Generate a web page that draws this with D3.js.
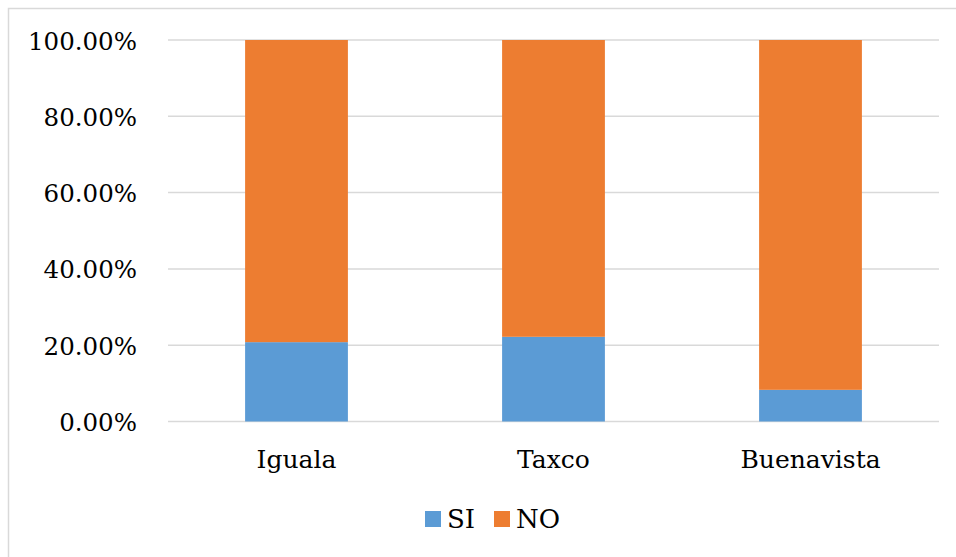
<!DOCTYPE html>
<html>
<head>
<meta charset="utf-8">
<script src="https://cdn.jsdelivr.net/npm/d3@7"></script>
<style>
  html, body { margin: 0; padding: 0; background: #fff; overflow: hidden; }
</style>
</head>
<body>
<div id="chart"></div>
<script>
// data
const categories = ["Iguala", "Taxco", "Buenavista"];
const siValues = [0.208, 0.222, 0.083];
const noValues = siValues.map(v => 1 - v); // the two series add up to 100%
const yTicks = [0, 0.2, 0.4, 0.6, 0.8, 1.0];
const seriesNames = ["SI", "NO"];
const seriesColors = ["#5B9BD5", "#ED7D31"];

const FONT = "'DejaVu Serif', serif";

const W = 956, H = 557;
const margin = { top: 40, right: 17, bottom: 135.5, left: 168 };
const width = W - margin.left - margin.right;
const height = H - margin.top - margin.bottom;

const svg = d3.select("#chart").append("svg")
    .attr("width", W)
    .attr("height", H)
    .style("font-family", FONT);

// outer chart border (right and bottom edges fall outside the picture)
svg.append("rect")
    .attr("x", 8.5).attr("y", 8.5)
    .attr("width", 960).attr("height", 560)
    .attr("fill", "none")
    .attr("stroke", "#d9d9d9")
    .attr("stroke-width", 1.5);

const g = svg.append("g")
    .attr("transform", "translate(" + margin.left + "," + margin.top + ")");

const x = d3.scaleBand()
    .domain(categories)
    .range([0, width])
    .paddingInner(0.6)
    .paddingOuter(0.3);

const y = d3.scaleLinear()
    .domain([0, 1])
    .range([height, 0]);

// gridlines
g.append("g")
    .selectAll("line")
    .data(yTicks)
    .enter().append("line")
    .attr("x1", 0).attr("x2", width)
    .attr("y1", d => y(d)).attr("y2", d => y(d))
    .attr("stroke", "#d9d9d9")
    .attr("stroke-width", 1.5);

// y tick labels
g.append("g")
    .selectAll("text")
    .data(yTicks)
    .enter().append("text")
    .attr("x", -31)
    .attr("y", d => y(d) + 9.5)
    .attr("text-anchor", "end")
    .style("font-size", "24.5px")
    .text(d => d3.format(".2%")(d));

// stacked bars
const rows = categories.map((c, i) => ({ cat: c, SI: siValues[i], NO: noValues[i] }));
const stack = d3.stack().keys(seriesNames)(rows);

g.selectAll(".layer")
    .data(stack)
    .enter().append("g")
    .attr("class", "layer")
    .attr("fill", (d, i) => seriesColors[i])
    .selectAll("rect")
    .data(d => d)
    .enter().append("rect")
    .attr("x", d => x(d.data.cat))
    .attr("width", x.bandwidth())
    .attr("y", d => y(d[1]))
    .attr("height", d => y(d[0]) - y(d[1]));

// category labels
g.append("g")
    .selectAll("text")
    .data(categories)
    .enter().append("text")
    .attr("x", d => x(d) + x.bandwidth() / 2)
    .attr("y", height + 46.5)
    .attr("text-anchor", "middle")
    .style("font-size", "25px")
    .text(d => d);

// legend
const legend = svg.append("g").attr("transform", "translate(425,511)");
const legendOffsets = [0, 69];
const items = legend.selectAll("g")
    .data(seriesNames)
    .enter().append("g")
    .attr("transform", (d, i) => "translate(" + legendOffsets[i] + ",0)");
items.append("rect")
    .attr("width", 16).attr("height", 16)
    .attr("fill", (d, i) => seriesColors[i]);
items.append("text")
    .attr("x", 22)
    .attr("y", 17)
    .style("font-size", "26px")
    .text(d => d);
</script>
</body>
</html>
